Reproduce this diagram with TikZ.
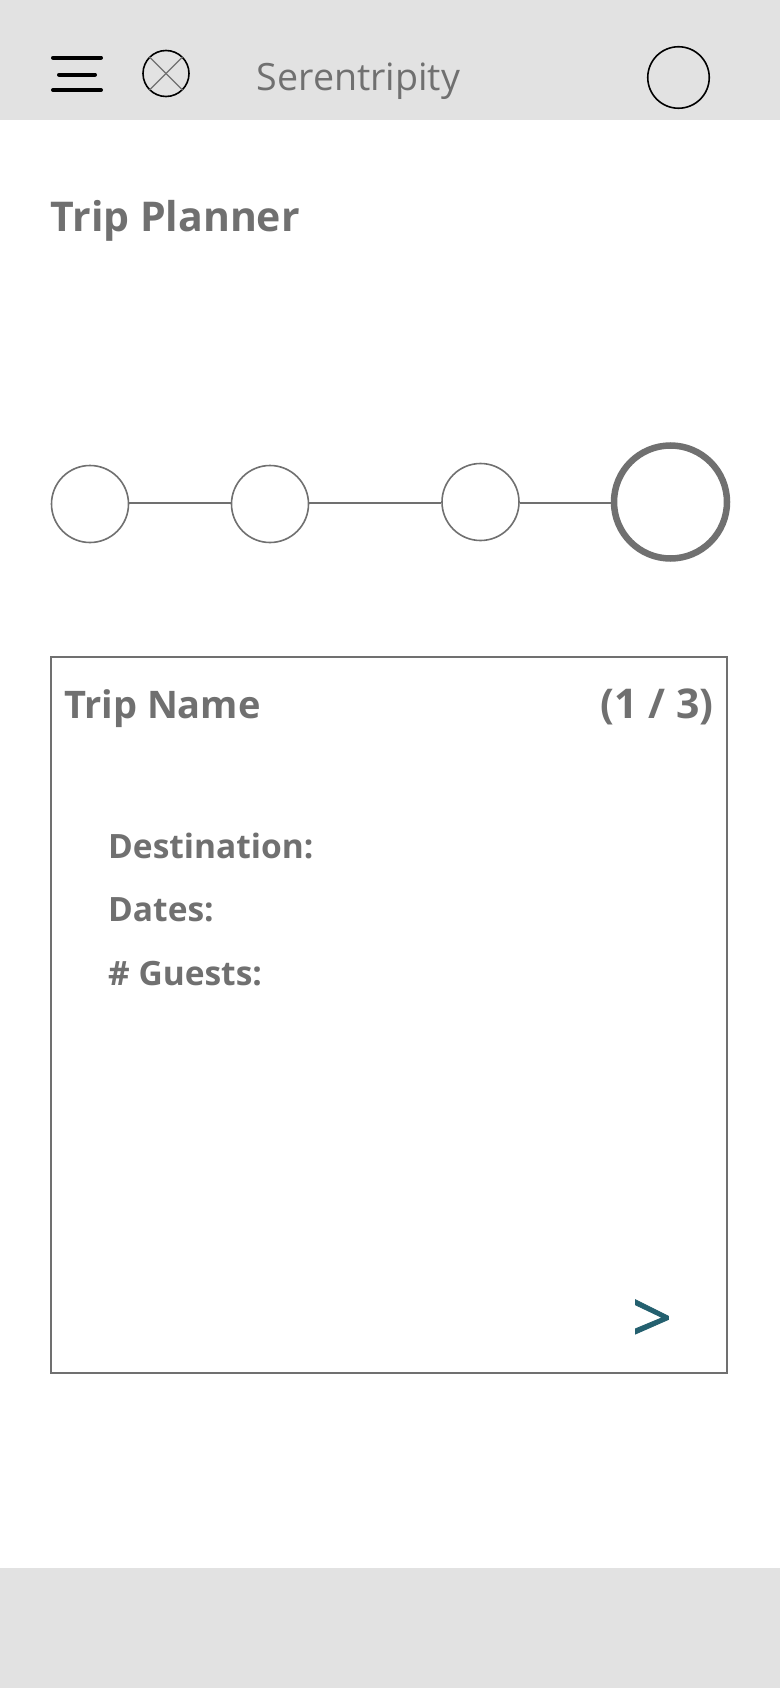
\documentclass[tikz,border=0pt]{standalone}
\usepackage{fontspec}
\setmainfont{Open Sans}
\newfontface\nextfont[FakeBold=1.2]{Open Sans}
\usetikzlibrary{positioning}
\definecolor{cBar}{HTML}{E2E2E2}
\definecolor{cText}{HTML}{707070}
\definecolor{cNext}{HTML}{24606F}

\begin{document}
\begin{tikzpicture}[
    x=1pt, y=-1pt,
    bar/.style={fill=cBar, draw=none},
    icon/.style={circle, draw=black, line width=1.6pt, inner sep=0pt},
    burger/.style={draw=black, line width=4pt, line cap=round},
    stopnode/.style={circle, draw=cText, line width=1.6pt, inner sep=0pt,
                     minimum size=77pt},
    link/.style={draw=cText, line width=1.6pt},
    headline/.style={font=\fontsize{41}{41}\selectfont\bfseries, text=cText,
                     anchor=base west, inner sep=0pt},
    field/.style={font=\fontsize{33.5}{33.5}\selectfont\bfseries, text=cText,
                  anchor=base west, inner sep=0pt},
]
\useasboundingbox (0,0) rectangle (780,1688);
\fill[white] (0,0) rectangle (780,1688);

% ===================== Header =====================
\fill[bar] (0,0) rectangle (780,120);
\draw[burger] (53,57.7) -- (101,57.7);
\draw[burger] (59,74.7) -- (95,74.7);
\draw[burger] (53,90) -- (101,90);

\node[icon, minimum size=46pt] (close) at (166,73.5) {};
\draw[draw=cText, line width=1.4pt] (close.45) -- (close.225);
\draw[draw=cText, line width=1.4pt] (close.135) -- (close.315);

\node[font=\fontsize{37.6}{37.6}\selectfont, text=cText, anchor=base west,
      inner sep=0pt] (brand) at (256.5,90.5) {Serentripity};
\node[icon, minimum size=61.5pt] (profile) at (678.5,77.5) {};

% ===================== Title =====================
\node[headline] (title) at (50.5,232) {Trip Planner};

% ===================== Steps =====================
\foreach \n/\x/\y in {one/90/504, two/270/504, three/480.5/502} {
    \node[stopnode] (\n) at (\x,\y) {};
}
\node[stopnode, line width=6.5pt, minimum size=113pt] (four) at (670.5,502) {};

\draw[link] (one.east |- 0,502.7) -- (two.west |- 0,502.7);
\draw[link] (two.east |- 0,502.7) -- (three.west |- 0,502.7);
\draw[link] (three.east |- 0,502.7) -- (four.west |- 0,502.7);

% ===================== Trip card =====================
\node[draw=cText, line width=2pt, minimum width=676.5pt, minimum height=716pt,
      inner sep=0pt] (card) at (389.2,1014.5) {};
\node[headline, font=\fontsize{38}{38}\selectfont\bfseries] (name) at (64,718) {Trip Name};
\node[headline, font=\fontsize{41}{41}\selectfont\bfseries, anchor=base east] (count) at (713.5,718) {(1 / 3)};

\foreach \n/\y/\t in {dest/858/Destination:, dates/921.7/Dates:, guests/985/\# Guests:} {
    \node[field] (\n) at (108,\y) {\t};
}

\node[font=\fontsize{70}{70}\nextfont, text=cNext, inner sep=0pt] (next) at (652,1321) {>};

% ===================== Footer =====================
\fill[bar] (0,1568) rectangle (780,1688);

\end{tikzpicture}
\end{document}
